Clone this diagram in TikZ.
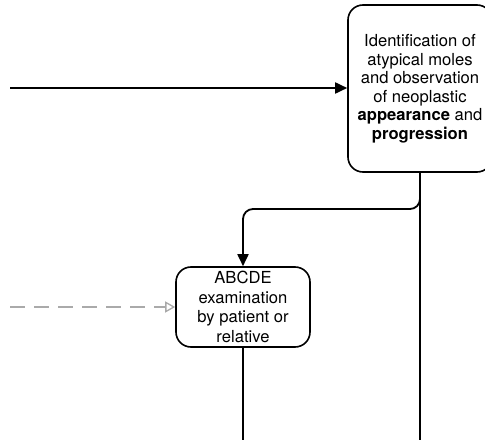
\documentclass[tikz,border=0pt]{standalone}
\usepackage{fontspec}
\setmainfont{TeX Gyre Heros}
\usetikzlibrary{arrows.meta}
\definecolor{flowclr}{RGB}{0,0,0}
\definecolor{msgclr}{RGB}{170,170,170}
\tikzset{
  taskbox/.style={draw=flowclr, line width=1.6pt, rounded corners=15pt, fill=white,
                  align=center, inner sep=0pt},
  flowline/.style={draw=flowclr, line width=1.8pt},
  flowarrow/.style={flowline, -{Triangle[length=12pt,width=11pt]}},
  msgarrow/.style={draw=msgclr, line width=1.3pt, dash pattern=on 15pt off 9pt,
                   -{Triangle[open,length=10pt,width=11pt]}}
}
\begin{document}
\begin{tikzpicture}[x=1pt,y=-1pt]
  \useasboundingbox (0,0) rectangle (485,444);
  \node[taskbox, minimum width=144pt, minimum height=167pt,
        font=\fontsize{16.6}{18.5}\selectfont] (identify) at (420,88.5)
    {Identification of\\ atypical moles\\ and observation\\ of neoplastic\\
     \textbf{appearance} and\\ \textbf{progression}};
  \node[taskbox, minimum width=134pt, minimum height=80pt,
        font=\fontsize{16.6}{19.5}\selectfont] (abcde) at (243,307)
    {ABCDE\\ examination\\ by patient or\\ relative};
  \coordinate (flowin) at (10,88);
  \coordinate (msgin) at (10,307);
  \coordinate (split) at (420,195);
  \coordinate (bend) at (243,209);
  \coordinate (outright) at (420,440);
  \coordinate (outleft) at (243,440);
  \draw[flowarrow] (flowin) -- (identify.west |- flowin);
  \draw[flowline] (identify.south) -- (outright);
  \draw[flowarrow, rounded corners=10pt] (split) |- (bend) -- (abcde.north);
  \draw[flowline] (abcde.south) -- (outleft);
  \draw[msgarrow] (msgin) -- (abcde.west);
\end{tikzpicture}
\end{document}
